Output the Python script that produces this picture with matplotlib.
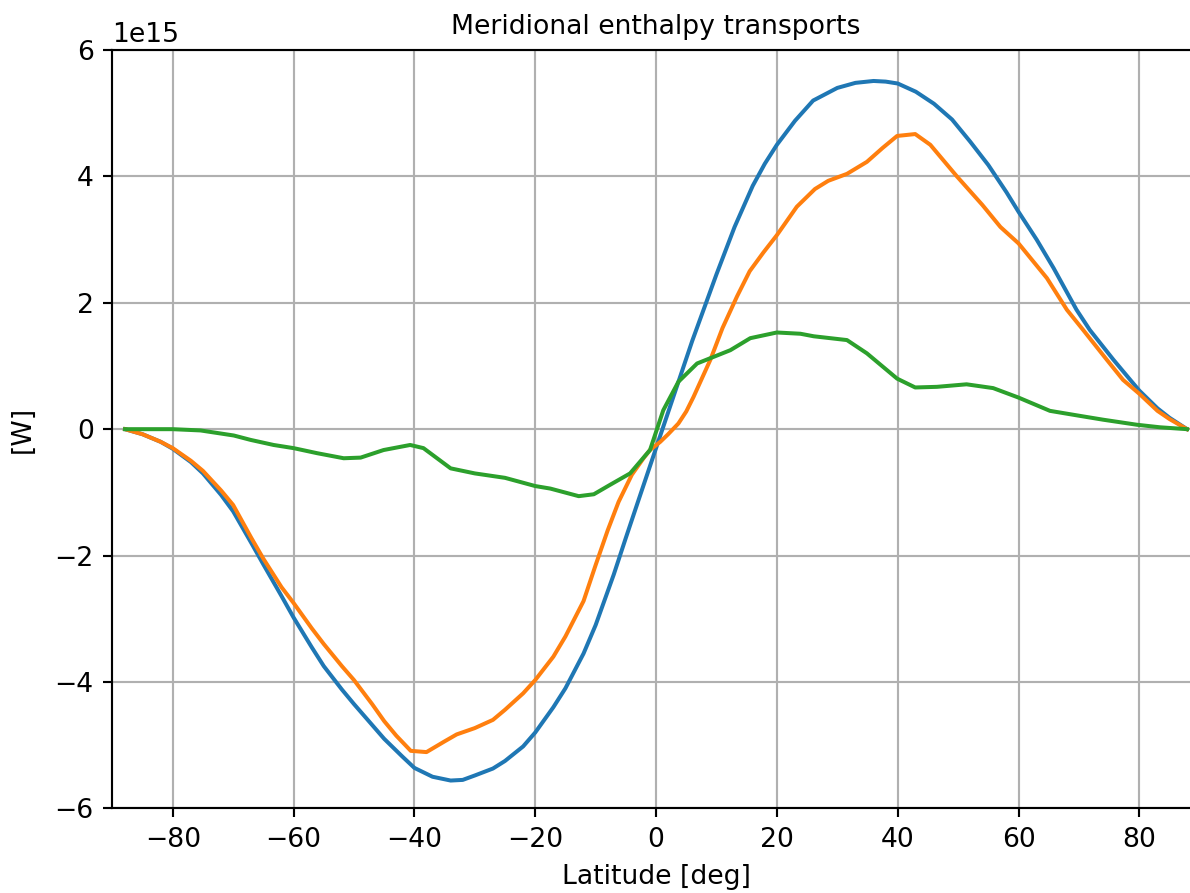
import matplotlib
matplotlib.use("Agg")
import matplotlib.pyplot as plt

# values, in units of 1e15 W

lat_total = [-87.9, -85, -82, -80, -77, -75, -72, -70, -67, -65, -62, -60,
             -57, -55, -52, -50, -47, -45, -42, -40, -37, -34, -32, -30,
             -27, -25, -22, -20, -17, -15, -12, -10, -7, -5, -3, 0, 3, 6,
             10, 13, 16, 18, 20, 23, 26, 30, 33, 36, 38, 40, 43, 46, 49, 52,
             55, 58, 60, 63, 65.8, 69.6, 71.8, 75.7, 78.5, 80, 83, 85, 87.9]
total = [0.0, -0.08, -0.2, -0.31, -0.52, -0.7, -1.04, -1.3, -1.8, -2.14,
         -2.64, -2.98, -3.45, -3.75, -4.12, -4.35, -4.68, -4.9, -5.18, -5.36,
         -5.5, -5.56, -5.55, -5.48, -5.37, -5.25, -5.02, -4.8, -4.4, -4.1,
         -3.55, -3.1, -2.3, -1.72, -1.15, -0.3, 0.55, 1.4, 2.45, 3.2, 3.85,
         4.2, 4.5, 4.88, 5.2, 5.4, 5.48, 5.51, 5.5, 5.47, 5.34, 5.15, 4.9,
         4.55, 4.18, 3.75, 3.44, 3.0, 2.55, 1.89, 1.57, 1.1, 0.78, 0.61,
         0.33, 0.18, 0.0]

lat_ocean = [-87.9, -85, -82, -80, -77, -75, -72, -70, -67, -65, -62, -60,
             -57, -55, -52, -50, -47, -45, -43, -40.6, -38, -35, -33, -30,
             -27, -25, -22, -20, -17, -15, -12, -10, -8, -6.2, -4, -2, -1,
             0.7, 2, 3.7, 5, 6.2, 9, 11, 13.4, 15.5, 17.8, 20, 23.3, 26.3,
             28.5, 31.6, 34.9, 37.5, 39.9, 42.9, 45.4, 49.8, 54, 57, 60,
             64.7, 68, 70.7, 74.6, 77.3, 80, 83, 85, 87.9]
ocean = [0.0, -0.08, -0.2, -0.3, -0.5, -0.66, -0.97, -1.2, -1.72, -2.05,
         -2.5, -2.75, -3.15, -3.4, -3.75, -3.97, -4.35, -4.62, -4.85, -5.09,
         -5.11, -4.94, -4.83, -4.73, -4.6, -4.44, -4.18, -3.97, -3.6, -3.28,
         -2.72, -2.15, -1.6, -1.15, -0.72, -0.45, -0.33, -0.2, -0.08, 0.09,
         0.28, 0.51, 1.1, 1.6, 2.1, 2.5, 2.8, 3.07, 3.52, 3.8, 3.93, 4.04,
         4.23, 4.45, 4.64, 4.67, 4.5, 4.0, 3.55, 3.2, 2.94, 2.39, 1.89,
         1.57, 1.1, 0.78, 0.56, 0.29, 0.16, 0.0]

lat_atmos = [-87.9, -80, -75.4, -69.9, -67.1, -63.3, -60, -56.1, -51.7,
             -48.9, -45.1, -40.7, -38.5, -34, -30, -25, -20, -17.5, -12.8,
             -10.3, -7.6, -4.3, -1, 1.2, 3.7, 6.8, 12.3, 15.6, 20, 23.9,
             26.1, 31.6, 34.9, 39.9, 42.9, 46.5, 51.4, 55.8, 60, 65.2, 70.2,
             74, 79.6, 83.4, 87.9]
atmos = [0.0, 0.0, -0.02, -0.1, -0.17, -0.25, -0.3, -0.38, -0.46, -0.45,
         -0.33, -0.25, -0.3, -0.62, -0.7, -0.77, -0.9, -0.94, -1.06, -1.03,
         -0.88, -0.7, -0.33, 0.3, 0.75, 1.04, 1.25, 1.44, 1.53, 1.51, 1.47,
         1.41, 1.2, 0.8, 0.66, 0.67, 0.71, 0.65, 0.5, 0.29, 0.21, 0.15,
         0.07, 0.03, 0.0]

scale = 1e15
dpi = 192

fig = plt.figure(figsize=(1190 / dpi, 893 / dpi), dpi=dpi)
ax = fig.add_axes([0.0944, 0.0948, 0.9138, 0.8492])

ax.plot(lat_total, [v * scale for v in total])
ax.plot(lat_ocean, [v * scale for v in ocean])
ax.plot(lat_atmos, [v * scale for v in atmos])

ax.set_xlim(-90, 90)
ax.set_ylim(-6e15, 6e15)
ax.grid(True)
ax.set_title("Meridional enthalpy transports", fontsize=10)
ax.set_xlabel("Latitude [deg]")
ax.set_ylabel("[W]", labelpad=7)

fig.savefig("out.png", dpi=dpi)
